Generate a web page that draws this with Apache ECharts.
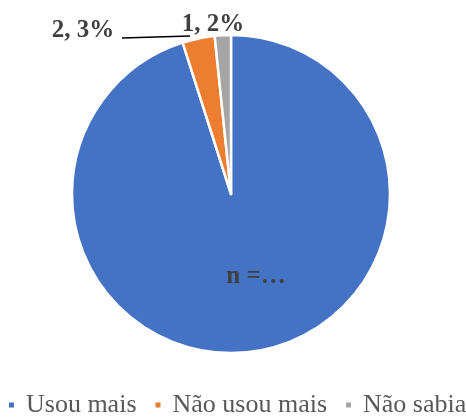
<!DOCTYPE html>
<html>
<head>
<meta charset="utf-8">
<script src="https://cdn.jsdelivr.net/npm/echarts@6/dist/echarts.min.js"></script>
<style>html,body{margin:0;padding:0;background:#fff}#c{width:466px;height:419px}</style>
</head>
<body>
<div id="c"></div>
<script>
var categories = ['Usou mais', 'Não usou mais', 'Não sabia'];
var values = [58, 2, 1];
var colors = ['#4472C4', '#ED7D31', '#A5A5A5'];
var labelTexts = ['n =…', null, null];

var total = values.reduce(function (a, b) { return a + b; }, 0);
var serif = "'Liberation Serif', 'Times New Roman', serif";

var chart = echarts.init(document.getElementById('c'), null, { renderer: 'canvas' });
chart.setOption({
  animation: false,
  color: colors,
  legend: {
    bottom: 1,
    left: 7,
    width: 540,
    padding: 0,
    icon: 'rect',
    itemWidth: 7,
    itemHeight: 7,
    itemGap: 17,
    textStyle: { fontFamily: serif, fontSize: 26, color: '#595959', padding: [0, 0, 0, 6] },
    data: categories
  },
  series: [{
    type: 'pie',
    center: [231, 194],
    radius: 159,
    startAngle: 90,
    clockwise: true,
    itemStyle: { borderColor: '#fff', borderWidth: 2.5 },
    label: {
      show: true,
      fontFamily: serif,
      fontWeight: 'bold',
      fontSize: 25,
      color: '#404040',
      formatter: function (p) {
        if (labelTexts[p.dataIndex]) return labelTexts[p.dataIndex];
        return p.value + ', ' + Math.round(p.value / total * 100) + '%';
      }
    },
    labelLine: { show: true, lineStyle: { color: '#000', width: 1.3 }, length: 10, length2: 10 },
    labelLayout: function (p) {
      if (p.dataIndex === 0) return { x: 256, y: 277, align: 'center', verticalAlign: 'middle' };
      if (p.dataIndex === 1) return { x: 83, y: 31, align: 'center', verticalAlign: 'middle',
        labelLinePoints: [[190, 36], [156, 37], [122, 38]] };
      if (p.dataIndex === 2) return { x: 213, y: 25, align: 'center', verticalAlign: 'middle' };
    },
    data: categories.map(function (c, i) {
      return {
        name: c, value: values[i],
        label: { position: i === 0 ? 'inside' : 'outside' },
        labelLine: { show: i === 1 }
      };
    })
  }]
});
</script>
</body>
</html>
